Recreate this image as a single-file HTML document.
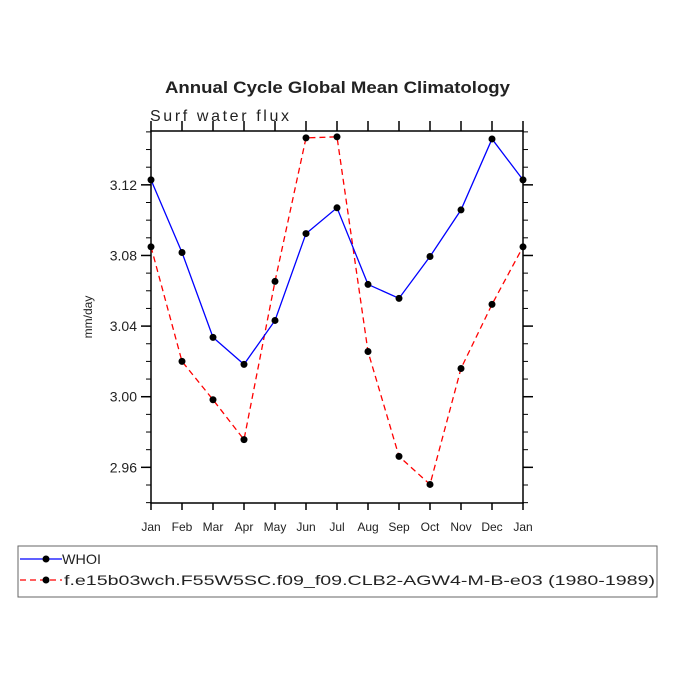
<!DOCTYPE html>
<html><head><meta charset="utf-8"><style>
body{margin:0;background:#fff;}
svg text{font-family:"Liberation Sans",sans-serif;fill:#222;}
</style></head><body>
<svg width="675" height="675" xmlns="http://www.w3.org/2000/svg">
<text x="165" y="93" textLength="345" lengthAdjust="spacingAndGlyphs" font-size="17" font-weight="bold" fill="#000">Annual Cycle Global Mean Climatology</text>
<text x="150" y="121" font-size="16" textLength="139" lengthAdjust="spacing">Surf water flux</text>
<text transform="translate(92,317) rotate(-90)" text-anchor="middle" font-size="12">mm/day</text>
<g id="axes"></g>
<g id="series"></g>
<rect x="18" y="546" width="639" height="51" fill="none" stroke="#666" stroke-width="1"/>
<g>
<line x1="20" y1="559" x2="62" y2="559" stroke="#00f" stroke-width="1.3"/><circle cx="46" cy="559" r="3.5" fill="#000"/>
<text x="62" y="564" font-size="14" textLength="39" lengthAdjust="spacingAndGlyphs">WHOI</text></g>
<g>
<line x1="20" y1="580" x2="62" y2="580" stroke="#f00" stroke-width="1.3" stroke-dasharray="6,4"/><circle cx="46" cy="580" r="3.5" fill="#000"/>
<text x="64" y="585" font-size="14" textLength="591" lengthAdjust="spacingAndGlyphs">f.e15b03wch.F55W5SC.f09_f09.CLB2-AGW4-M-B-e03 (1980-1989)</text></g>
</svg>
<script>
const months=["Jan","Feb","Mar","Apr","May","Jun","Jul","Aug","Sep","Oct","Nov","Dec","Jan"];
const whoi=[3.1228,3.0817,3.0336,3.0183,3.0432,3.0924,3.107,3.0636,3.0557,3.0794,3.1058,3.146,3.1228];
const model=[3.0849,3.020,2.9983,2.9757,3.0653,3.1466,3.1472,3.0256,2.9662,2.9503,3.016,3.0523,3.0849];
const yTicks=[2.96,3.00,3.04,3.08,3.12];
const yTickLabels=["2.96","3.00","3.04","3.08","3.12"];
const X0=151,X1=523,Y0=131,Y1=503,YMIN=2.9398,YMAX=3.1505;
const xs=i=>X0+(X1-X0)*i/(months.length-1);
const ys=v=>Y1-(v-YMIN)/(YMAX-YMIN)*(Y1-Y0);
const NS="http://www.w3.org/2000/svg";
function mk(t,a,p){const e=document.createElementNS(NS,t);for(const k in a)e.setAttribute(k,a[k]);p.appendChild(e);return e;}
const ax=document.getElementById('axes');
const frame=mk('rect',{x:X0,y:Y0,width:X1-X0,height:Y1-Y0,fill:'none',stroke:'#000','stroke-width':1.5},ax);


months.forEach((m,i)=>{const x=xs(i);
 mk('line',{x1:x,y1:Y1,x2:x,y2:Y1+7,stroke:'#000','stroke-width':1.5},ax);
 mk('line',{x1:x,y1:Y0,x2:x,y2:Y0-10,stroke:'#000','stroke-width':1.5},ax);
 const t=mk('text',{x:x,y:Y1+28,'text-anchor':'middle','font-size':12},ax);t.textContent=m;
 
 
});
for(let v=2.94;v<=3.151;v+=0.01){const y=ys(v);
 mk('line',{x1:X0-5,y1:y,x2:X0,y2:y,stroke:'#000'},ax);
 mk('line',{x1:X1,y1:y,x2:X1+5,y2:y,stroke:'#000'},ax);}
yTicks.forEach((v,i)=>{const y=ys(v);
 mk('line',{x1:X0-10,y1:y,x2:X0,y2:y,stroke:'#000','stroke-width':1.5},ax);
 mk('line',{x1:X1,y1:y,x2:X1+10,y2:y,stroke:'#000','stroke-width':1.5},ax);
 const t=mk('text',{x:X0-14,y:y+5,'text-anchor':'end','font-size':14},ax);t.textContent=yTickLabels[i];
 
 
});
const sg=document.getElementById('series');
function draw(vals,color,dash,name){
 const g=mk('g',{},sg);
 
 
 const a={points:vals.map((v,i)=>xs(i)+','+ys(v)).join(' '),fill:'none',stroke:color,'stroke-width':1.3};
 if(dash)a['stroke-dasharray']=dash;
 mk('polyline',a,g);
 vals.forEach((v,i)=>{const c=mk('circle',{cx:xs(i),cy:ys(v),r:3.5,fill:'#000'},g);
  
  });
}
draw(model,'#f00','6,4','series-model');
draw(whoi,'#00f',null,'series-whoi');
</script>
</body></html>
